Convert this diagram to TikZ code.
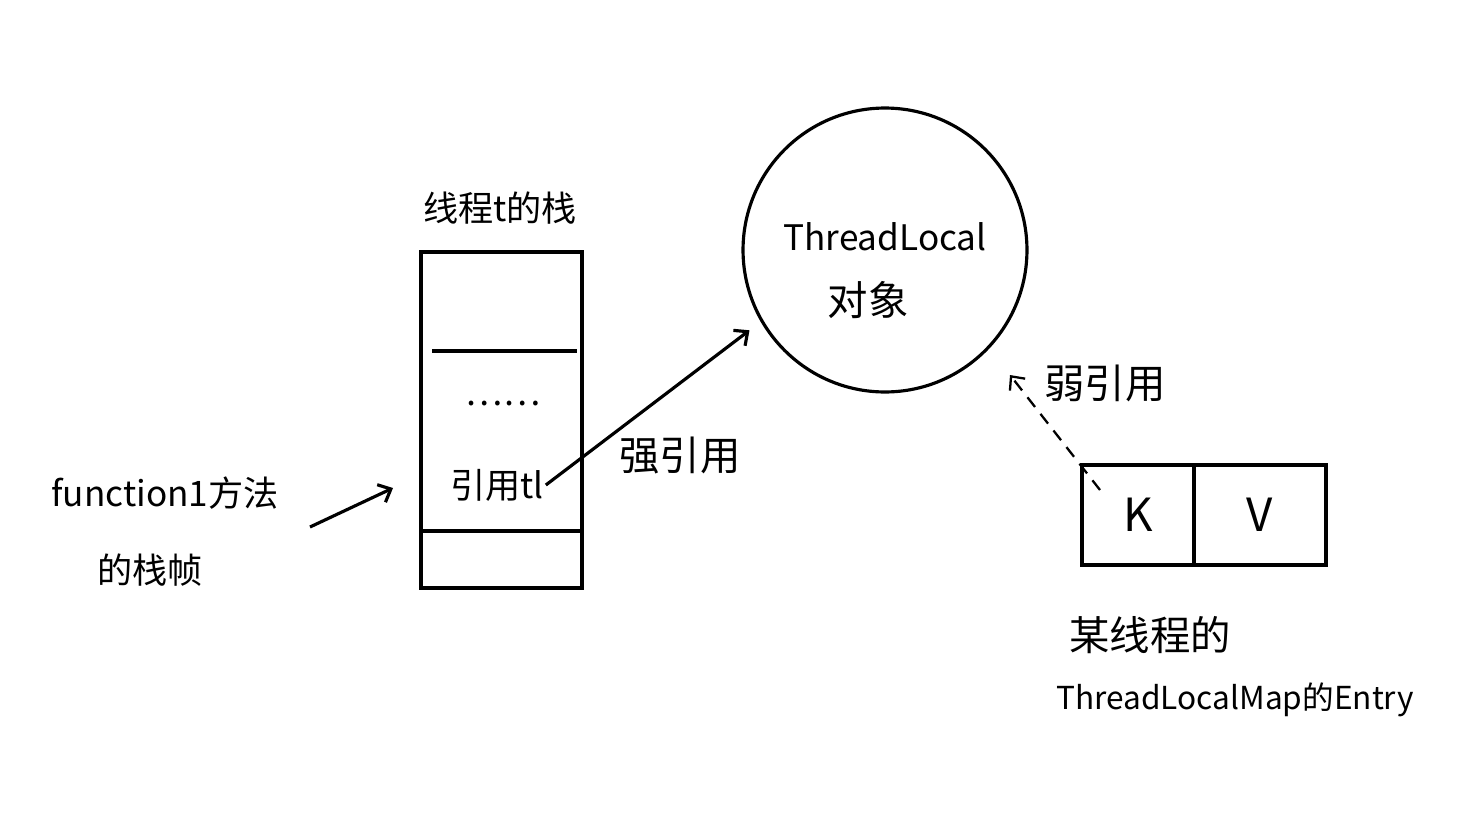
\documentclass[tikz,border=0pt]{standalone}
\usepackage{fontspec}
\setmainfont{Noto Sans CJK SC}
\usetikzlibrary{arrows.meta}

\tikzset{
  hand/.style={font=\fontsize{20}{25}\selectfont, inner sep=1pt},
  big/.style={font=\fontsize{23}{28}\selectfont, inner sep=1pt},
  cell/.style={draw, line width=1.8pt, inner sep=0pt, outer sep=0pt, minimum height=2cm},
  ref/.style={line width=1.8pt, -{Straight Barb[length=6pt,width=11pt]}}
}

\begin{document}
\begin{tikzpicture}[x=0.02cm, y=-0.02cm]
\useasboundingbox (0,0) rectangle (1484,825);

% stack of thread t
\node[cell, minimum width=3.22cm, minimum height=6.72cm] (stack) at (501.5,420) {};
\node[hand] (stacktitle) at (500,208) {线程t的栈};
\draw[line width=1.8pt] (432,351) -- (577,351);
\draw[line width=1.8pt] (stack.west |- 0,531) -- (stack.east |- 0,531);
\node[hand] (dots) at (503,404) {\ldots\ldots};
\node[hand] (tl) at (497,485) {引用tl};

% frame of function1
\node[hand] (fn) at (165,493) {function1方法};
\node[hand] (fnframe) at (150,570) {的栈帧};
\coordinate (fnfrom) at (310,527);
\coordinate (fnto) at (393,488);
\draw[ref] (fnfrom) -- (fnto);

% ThreadLocal object
\node[draw, circle, line width=1.8pt, minimum size=5.68cm] (tlobj) at (885,250) {};
\node[hand] (tlname) at (885,237) {ThreadLocal};
\node[big] (tlobjtext) at (868,300) {对象};

% strong reference
\draw[ref, shorten >=8pt] (tl.east) -- (tlobj.210);
\node[big] (strong) at (680,455) {强引用};

% entry of ThreadLocalMap
\node[cell, minimum width=2.24cm] (kcell) at (1138,515) {\fontsize{26}{30}\selectfont K};
\node[cell, minimum width=2.64cm, anchor=west] (vcell) at (kcell.east) {\fontsize{26}{30}\selectfont V};
\node[big] (entry1) at (1150,635) {某线程的};
\node[font=\fontsize{18}{22}\selectfont] (entry2) at (1235,700) {ThreadLocalMap的Entry};

% weak reference
\coordinate (weakfrom) at (1100,490);
\coordinate (weakto) at (1010,375);
\draw[ref, line width=1.3pt, dash pattern=on 7pt off 5pt] (weakfrom) -- (weakto);
\node[big] (weak) at (1105,383) {弱引用};
\end{tikzpicture}
\end{document}
